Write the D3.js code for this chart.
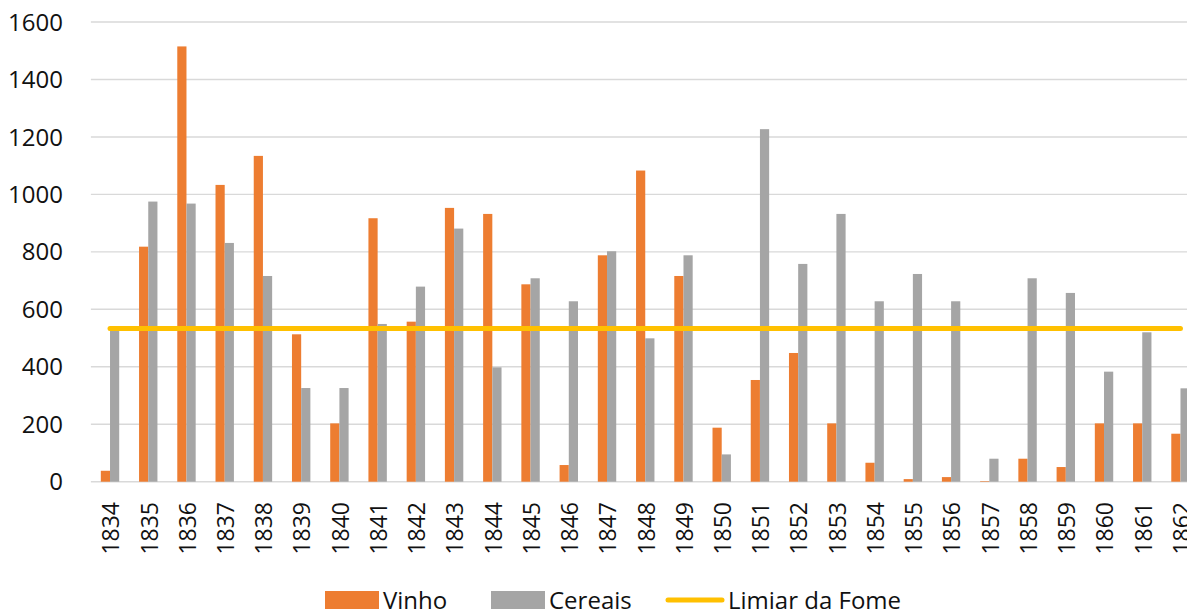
<!DOCTYPE html>
<html>
<head>
<meta charset="utf-8">
<script src="https://cdn.jsdelivr.net/npm/d3@7"></script>
<style>
  body { margin: 0; background: #fff; }
  svg { display: block; font-family: "Open Sans", "Noto Sans", sans-serif; }
</style>
</head>
<body>
<svg id="chart"></svg>
<script>
//DATA
const years = d3.range(1834, 1863).map(String);
const vinho = [38, 818, 1515, 1033, 1134, 513, 203, 917, 557, 953, 932, 687, 58, 788, 1083,
    716, 188, 354, 448, 203, 66, 9, 16, 2, 80, 51, 203, 203, 167];
const cereais = [530, 975, 968, 831, 716, 326, 326, 549, 679, 881, 398, 708, 628, 802, 499,
    788, 95, 1227, 758, 932, 628, 723, 628, 80, 708, 657, 383, 520, 325];
const limiar = years.map(() => 533);
const yTicks = [0, 200, 400, 600, 800, 1000, 1200, 1400, 1600];

const legendItems = [
    { name: "Vinho", color: "#ED7D31", type: "bar" },
    { name: "Cereais", color: "#A5A5A5", type: "bar" },
    { name: "Limiar da Fome", color: "#FFC000", type: "line" }
];

/*SVG*/
const W = 1187, H = 609;
const svg = d3.select("#chart").attr("width", W).attr("height", H);

const x = d3.scaleBand().domain(years).range([90.9, 1199.6]).padding(0);
const y = d3.scaleLinear().domain([0, 1600]).range([481.7, 22]);
const barW = 9.2;

//GRIDLINES
svg.append("g")
    .selectAll("line")
    .data(yTicks)
    .enter()
    .append("line")
    .attr("x1", x.range()[0])
    .attr("x2", x.range()[1])
    .attr("y1", d => y(d))
    .attr("y2", d => y(d))
    .attr("stroke", "#D9D9D9")
    .attr("stroke-width", 1.4);

// Y labels
svg.append("g")
    .selectAll("text")
    .data(yTicks)
    .enter()
    .append("text")
    .attr("x", 63)
    .attr("y", d => y(d))
    .attr("dy", "0.36em")
    .attr("text-anchor", "end")
    .attr("font-size", "24px")
    .attr("fill", "#111")
    .text(d => d);

// X labels (rotated)
svg.append("g")
    .selectAll("text")
    .data(years)
    .enter()
    .append("text")
    .attr("transform", d => `translate(${x(d) + x.bandwidth() / 2 + 1}, 502) rotate(-90)`)
    .attr("dy", "0.36em")
    .attr("text-anchor", "end")
    .attr("font-size", "23px")
    .attr("fill", "#111")
    .text(d => d);

//BARS
const groups = svg.append("g")
    .selectAll("g")
    .data(years)
    .enter()
    .append("g")
    .attr("transform", d => `translate(${x(d) + x.bandwidth() / 2}, 0)`);

groups.append("rect")
    .attr("x", -barW)
    .attr("width", barW)
    .attr("y", (d, i) => y(vinho[i]))
    .attr("height", (d, i) => y(0) - y(vinho[i]))
    .attr("fill", "#ED7D31");

groups.append("rect")
    .attr("x", 0)
    .attr("width", barW)
    .attr("y", (d, i) => y(cereais[i]))
    .attr("height", (d, i) => y(0) - y(cereais[i]))
    .attr("fill", "#A5A5A5");

// Threshold line
const line = d3.line()
    .x((d, i) => x(years[i]) + x.bandwidth() / 2)
    .y(d => y(d));

svg.append("path")
    .datum(limiar)
    .attr("fill", "none")
    .attr("stroke", "#FFC000")
    .attr("stroke-width", 5)
    .attr("stroke-linecap", "round")
    .attr("d", line);

//LEGEND
const legendX = [325, 491, 666];
const legend = svg.append("g")
    .selectAll("g")
    .data(legendItems)
    .enter()
    .append("g")
    .attr("transform", (d, i) => `translate(${legendX[i]}, 600)`);

legend.filter(d => d.type === "bar")
    .append("rect")
    .attr("x", 0)
    .attr("y", -9)
    .attr("width", 54)
    .attr("height", 18)
    .attr("fill", d => d.color);

legend.filter(d => d.type === "line")
    .append("line")
    .attr("x1", 2)
    .attr("x2", 56)
    .attr("y1", 0)
    .attr("y2", 0)
    .attr("stroke", d => d.color)
    .attr("stroke-width", 5)
    .attr("stroke-linecap", "round");

legend.append("text")
    .attr("x", d => d.type === "bar" ? 58 : 62)
    .attr("y", 9)
    .attr("font-size", "24px")
    .attr("fill", "#111")
    .text(d => d.name);
</script>
</body>
</html>
